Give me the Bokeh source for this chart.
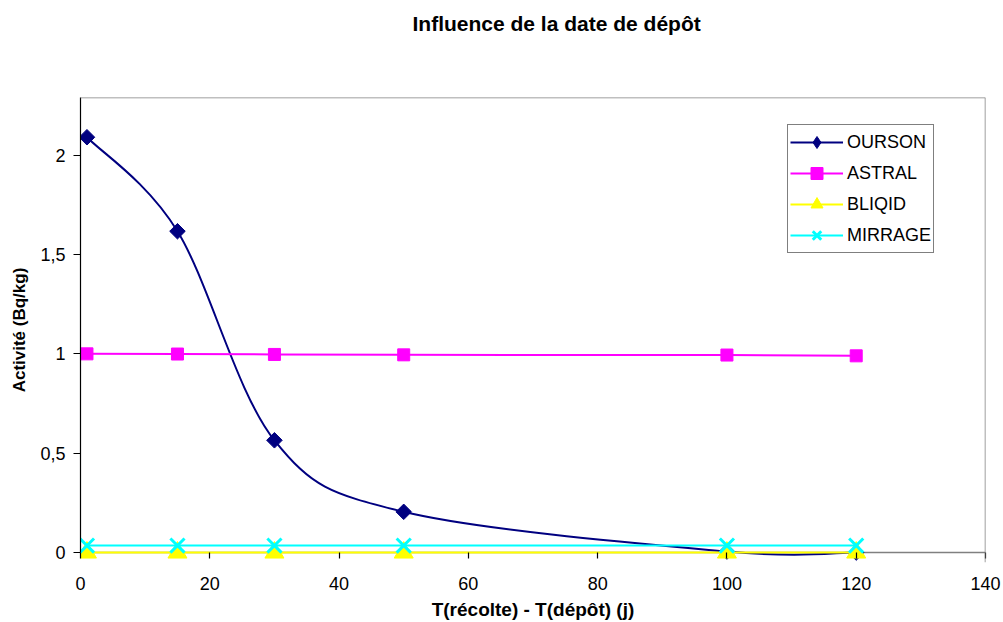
from bokeh.plotting import figure
from bokeh.models import Range1d, FixedTicker, Legend, LegendItem, Span, Title
from bokeh.embed import file_html
from bokeh.resources import INLINE
import numpy as np

days = [1, 15, 30, 50, 100, 120]
ourson = [2.09, 1.617, 0.565, 0.205, 0.005, 0.0]
astral = [1.0, 0.999, 0.997, 0.995, 0.994, 0.99]
bliqid = [0.0, 0.0, 0.0, 0.0, 0.0, 0.0]
mirrage = [0.035, 0.035, 0.035, 0.035, 0.035, 0.035]

y_ticks = [0, 0.5, 1, 1.5, 2]
y_tick_labels = ["0", "0,5", "1", "1,5", "2"]
x_ticks = [0, 20, 40, 60, 80, 100, 120, 140]
Y_MAX = 2.29
TITLE = "Influence de la date de dépôt"

FONT = "Liberation Sans"

p = figure(width=1003, height=622, output_backend="svg", toolbar_location=None,
           x_range=Range1d(0, 140), y_range=Range1d(-0.05, Y_MAX),
           min_border_left=80, min_border_right=18, min_border_top=97, min_border_bottom=60)
p.grid.visible = False
p.outline_line_color = None

# spacer panel between the frame and the title
p.add_layout(Title(text=" ", text_font_size="1px", standoff=60), "above")

p.title.text = TITLE
p.title.text_font = FONT
p.title.text_font_size = "21px"
p.title.text_font_style = "bold"
p.title.text_color = "black"
p.title.align = "left"
p.title.offset = 332
p.title.vertical_align = "bottom"
p.title.standoff = 0

p.xaxis.ticker = FixedTicker(ticks=x_ticks)
p.yaxis.ticker = FixedTicker(ticks=y_ticks)
p.yaxis.major_label_overrides = {t: l for t, l in zip(y_ticks, y_tick_labels)}
for ax in (p.xaxis[0], p.yaxis[0]):
    ax.major_label_text_font = FONT
    ax.major_label_text_font_size = "18px"
    ax.major_label_text_color = "black"
    ax.axis_line_color = "black"
    ax.axis_line_width = 1.2
    ax.major_tick_line_color = "black"
    ax.major_tick_line_width = 1.2
    ax.minor_tick_line_color = None
    ax.axis_label_text_font = FONT
    ax.axis_label_text_font_style = "bold"
    ax.axis_label_text_color = "black"

p.xaxis.axis_line_color = None
p.xaxis.major_tick_in = 10
p.xaxis.major_tick_out = -4
p.xaxis.major_label_standoff = 14
p.xaxis.axis_label = "T(récolte) - T(dépôt) (j)"
p.xaxis.axis_label_text_font_size = "19px"
p.xaxis.axis_label_standoff = 6

p.yaxis.bounds = (0, Y_MAX)
p.yaxis.major_tick_in = 0
p.yaxis.major_tick_out = 7
p.yaxis.major_label_standoff = 8
p.yaxis.axis_label = "Activité (Bq/kg)"
p.yaxis.axis_label_text_font_size = "17px"
p.yaxis.axis_label_standoff = 8

# plot-area border and zero line
p.add_layout(Span(location=0, dimension="width", line_color="#808080", line_width=1.5, level="underlay"))
p.add_layout(Span(location=Y_MAX, dimension="width", line_color="#808080", line_width=1.5))
p.add_layout(Span(location=140, dimension="height", line_color="#808080", line_width=1.5))

# Smoothed line (Catmull-Rom -> cubic Bezier) for OURSON
xs = np.array(days, dtype=float)
ys = np.array(ourson, dtype=float)
n = len(xs)
xp = np.concatenate([[xs[0]], xs, [xs[-1]]])
yp = np.concatenate([[ys[0]], ys, [ys[-1]]])
x0 = xs[:-1]; y0 = ys[:-1]; x1 = xs[1:]; y1 = ys[1:]
cx0 = xp[1:n] + (xp[2:n+1] - xp[0:n-1]) / 6.0
cy0 = yp[1:n] + (yp[2:n+1] - yp[0:n-1]) / 6.0
cx1 = xp[2:n+1] - (xp[3:n+2] - xp[1:n]) / 6.0
cy1 = yp[2:n+1] - (yp[3:n+2] - yp[1:n]) / 6.0

r_o_line = p.bezier(x0=x0, y0=y0, x1=x1, y1=y1, cx0=cx0, cy0=cy0, cx1=cx1, cy1=cy1,
                    line_color="#000080", line_width=2)
r_o_pts = p.scatter(days, ourson, marker="square", angle=np.pi / 4, size=11,
                    fill_color="#000080", line_color="#000080")
# zero-size diamonds: invisible on the plot, used for the legend swatch
r_o_leg = p.scatter(days, ourson, marker="diamond", size=0,
                    fill_color="#000080", line_color="#000080")

r_a_line = p.line(days, astral, line_color="#FF00FF", line_width=2)
r_a_pts = p.scatter(days, astral, marker="square", size=12, fill_color="#FF00FF",
                    line_color="#FF00FF")

r_b_line = p.line(days, bliqid, line_color="#FFFF00", line_width=2)
r_b_pts = p.scatter(days, bliqid, marker="triangle", size=19, fill_color="#FFFF00",
                    line_color="#FFFF00")

r_m_line = p.line(days, mirrage, line_color="#00FFFF", line_width=2)
r_m_pts = p.scatter(days, mirrage, marker="x", size=20, line_color="#00FFFF", line_width=3)

legend = Legend(items=[
    LegendItem(label="OURSON", renderers=[r_o_line, r_o_leg]),
    LegendItem(label="ASTRAL", renderers=[r_a_line, r_a_pts]),
    LegendItem(label="BLIQID", renderers=[r_b_line, r_b_pts]),
    LegendItem(label="MIRRAGE", renderers=[r_m_line, r_m_pts]),
], location=(707, 309))
legend.label_text_font = FONT
legend.label_text_font_size = "18px"
legend.label_text_color = "black"
legend.glyph_width = 53
legend.glyph_height = 30
legend.label_height = 30
legend.spacing = 1
legend.padding = 2
legend.margin = 0
legend.label_standoff = 4
legend.border_line_color = "black"
legend.border_line_width = 1
legend.background_fill_alpha = 1
p.add_layout(legend)

open("out.html", "w").write(file_html(p, INLINE))
